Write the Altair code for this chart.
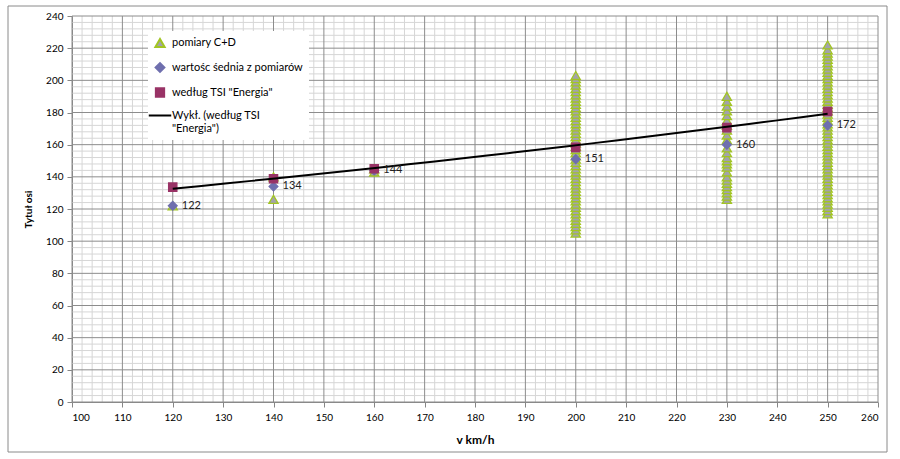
import altair as alt
import pandas as pd

FONT = "Lato"

# ---- data ----
S_MEAS = "pomiary C+D"
S_MEAN = "wartośc śednia z pomiarów"
S_TSI = 'według TSI "Energia"'
S_TREND = 'Wykł. (według TSI "Energia")'
series_order = [S_MEAS, S_MEAN, S_TSI, S_TREND]

speeds = [120, 140, 160, 200, 230, 250]
meas_120 = [122]
meas_140 = [126, 140]
meas_160 = [143, 145]
meas_200 = [105, 107, 109, 111, 113, 115, 117, 119, 121, 123, 125, 127, 129, 131,
            133, 135, 137, 139, 141, 143, 145, 147, 149, 151, 153, 155, 157, 159,
            161, 163, 165, 167, 169, 171, 173, 175, 177, 179, 181, 183, 185, 187,
            189, 191, 193, 195, 197, 199, 201, 203]
meas_230 = [126, 128, 130, 132, 134, 136, 138, 140, 143, 146, 148, 150, 152, 155,
            158, 163, 166, 169, 172, 175, 178, 181, 184, 187, 190]
meas_250 = [117, 119, 121, 123, 125, 127, 129, 131, 133, 135, 137, 139, 141, 143,
            145, 147, 149, 151, 153, 155, 157, 159, 161, 163, 165, 167, 169, 171,
            173, 175, 177, 179, 181, 183, 185, 187, 189, 191, 193, 195, 197, 199,
            201, 203, 205, 207, 209, 211, 213, 215, 217, 219, 222]
mean_vals = [122, 134, 144, 151, 160, 172]
tsi_vals = [133.6, 138.8, 145, 158.3, 170.6, 180.6]

x_ticks = [100, 110, 120, 130, 140, 150, 160, 170, 180, 190, 200, 210, 220, 230, 240, 250, 260]
y_ticks = [0, 20, 40, 60, 80, 100, 120, 140, 160, 180, 200, 220, 240]
x_minor = [v for v in range(100, 261, 2) if v % 10 != 0]
y_minor = [v for v in range(0, 241, 4) if v % 20 != 0]

rows = []
for sp, lst in zip(speeds, [meas_120, meas_140, meas_160, meas_200, meas_230, meas_250]):
    for val in lst:
        rows.append({"v": sp, "y": val, "series": S_MEAS})
for sp, val in zip(speeds, mean_vals):
    rows.append({"v": sp, "y": val, "series": S_MEAN})
for sp, val in zip(speeds, tsi_vals):
    rows.append({"v": sp, "y": val, "series": S_TSI})
points = pd.DataFrame(rows)
labels_df = pd.DataFrame({"v": speeds, "y": mean_vals})

xscale = alt.Scale(domain=[100, 260], nice=False, zero=False)
yscale = alt.Scale(domain=[0, 240], nice=False)

shape_scale = alt.Scale(domain=series_order,
                        range=["triangle-up", "diamond", "square", "M-2.9,0H2.9"])
fill_scale = alt.Scale(domain=series_order, range=["#A3A3AB", "#6F6FAE", "#993366", "transparent"])
stroke_scale = alt.Scale(domain=series_order, range=["#A2C523", "#6F6FAE", "#993366", "#000000"])
size_scale = alt.Scale(domain=series_order, range=[85, 60, 95, 80])

x_axis = alt.Axis(values=x_ticks, grid=False, title="v  km/h", titleFontWeight="bold",
                  titleFontSize=12, titlePadding=12, labelFontSize=10, labelPadding=5,
                  tickSize=5, domainColor="#868686", tickColor="#868686", labelColor="#000")
y_axis = alt.Axis(values=y_ticks, grid=False, title="Tytuł osi", titleFontWeight="bold",
                  titleFontSize=10, titlePadding=12, labelFontSize=10, labelPadding=4,
                  tickSize=5, domainColor="#868686", tickColor="#868686", labelColor="#000")

one = pd.DataFrame({"a": [0]})
border = alt.Chart(one).mark_rect(fillOpacity=0, stroke="#8a8a8a", strokeWidth=1).encode(
    x=alt.value(-64), x2=alt.value(815), y=alt.value(-10), y2=alt.value(436))

minor_x = alt.Chart(pd.DataFrame({"v": x_minor})).mark_rule(color="#D6D6D6", strokeWidth=1).encode(
    x=alt.X("v:Q", scale=xscale, axis=x_axis))
minor_y = alt.Chart(pd.DataFrame({"y": y_minor})).mark_rule(color="#D6D6D6", strokeWidth=1).encode(
    y=alt.Y("y:Q", scale=yscale, axis=y_axis))
major_x = alt.Chart(pd.DataFrame({"v": x_ticks})).mark_rule(color="#8C8C8C", strokeWidth=1).encode(
    x=alt.X("v:Q", scale=xscale, axis=x_axis))
major_y = alt.Chart(pd.DataFrame({"y": y_ticks})).mark_rule(color="#8C8C8C", strokeWidth=1).encode(
    y=alt.Y("y:Q", scale=yscale, axis=y_axis))

legend = alt.Legend(title=None, orient="none", legendX=76, legendY=15, fillColor="white",
                    padding=6, labelFontSize=11, labelFont=FONT, labelColor="#000",
                    labelOffset=6, rowPadding=8, symbolStrokeWidth=2,
                    labelExpr="indexof(datum.label, 'Wyk') == 0 ? ['Wykł. (według TSI', '\"Energia\")'] : datum.label")

pts = alt.Chart(points).mark_point(filled=False, strokeWidth=1.3, opacity=1).encode(
    x=alt.X("v:Q", scale=xscale, axis=x_axis),
    y=alt.Y("y:Q", scale=yscale, axis=y_axis),
    shape=alt.Shape("series:N", scale=shape_scale, legend=legend),
    fill=alt.Fill("series:N", scale=fill_scale, legend=legend),
    stroke=alt.Stroke("series:N", scale=stroke_scale, legend=legend),
    size=alt.Size("series:N", scale=size_scale, legend=legend),
)

trend = alt.Chart(points).transform_filter(
    alt.datum.series == S_TSI
).transform_regression("v", "y", method="exp", extent=[120, 250], groupby=["series"]
).transform_calculate(series="'" + S_TREND.replace('"', '\\"') + "'").mark_line(strokeWidth=2).encode(
    x=alt.X("v:Q", scale=xscale, axis=x_axis),
    y=alt.Y("y:Q", scale=yscale, axis=y_axis),
    stroke=alt.Stroke("series:N", scale=stroke_scale, legend=legend),
)

labels = alt.Chart(labels_df).mark_text(align="left", baseline="middle", dx=9, fontSize=11,
                                        font=FONT, color="#222").encode(
    x=alt.X("v:Q", scale=xscale, axis=x_axis),
    y=alt.Y("y:Q", scale=yscale, axis=y_axis),
    text=alt.Text("y:Q", format="d"),
)

chart = alt.layer(border, minor_x, minor_y, major_x, major_y, pts, trend, labels).properties(
    width=806, height=386,
    autosize=alt.AutoSizeParams(type="none"),
    padding={"left": 72, "top": 16, "right": 22, "bottom": 57},
    background="white",
).configure_view(stroke=None).configure_axis(labelFont=FONT, titleFont=FONT).configure_text(font=FONT)

chart.save("out.html", embed_options={"renderer": "svg", "actions": False})
